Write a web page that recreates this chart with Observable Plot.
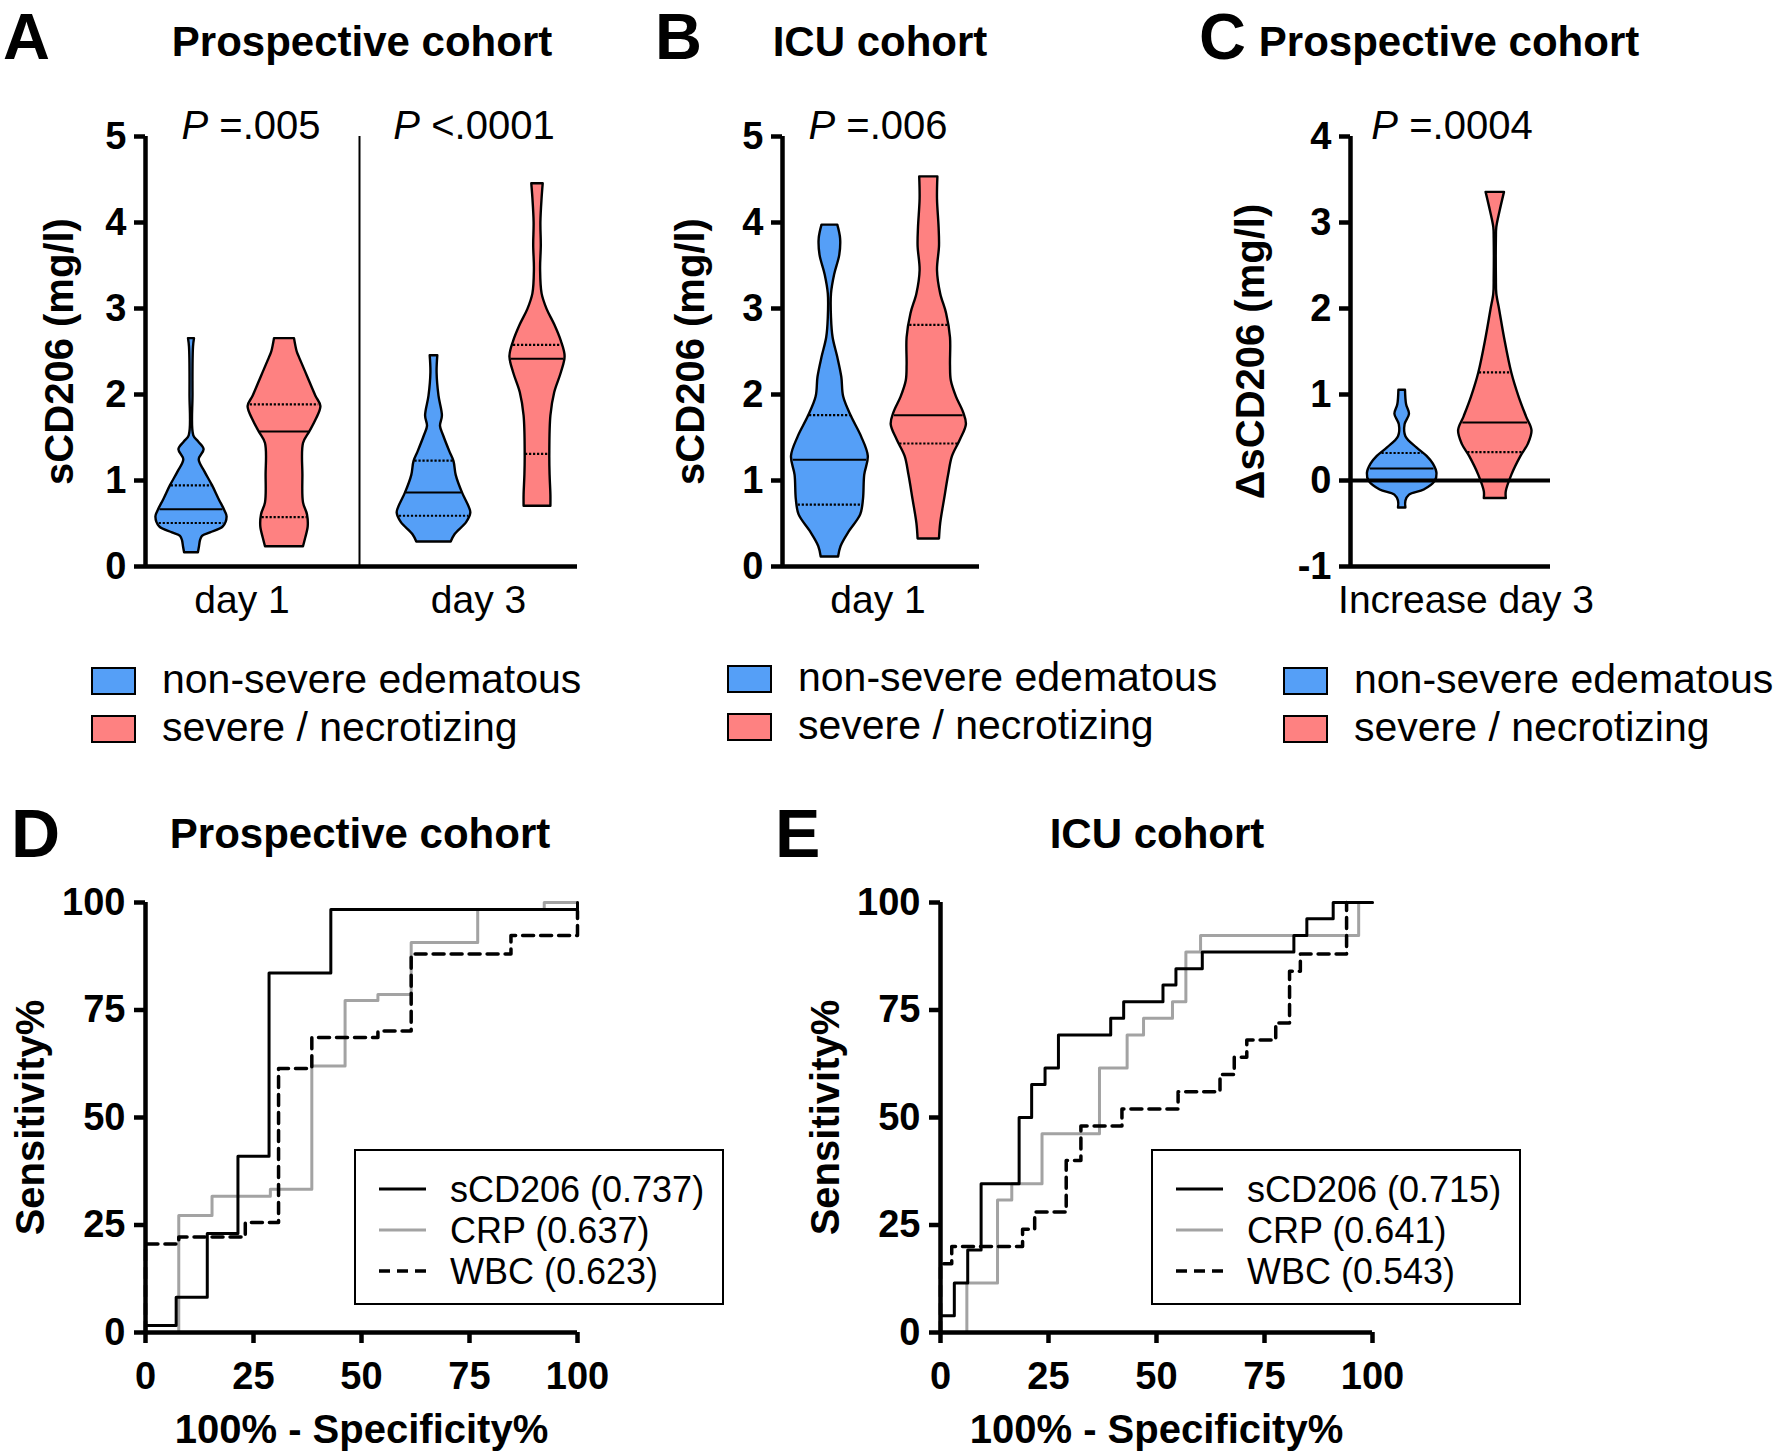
<!DOCTYPE html>
<html><head><meta charset="utf-8">
<script src="https://cdn.jsdelivr.net/npm/d3@7"></script>
<script src="https://cdn.jsdelivr.net/npm/@observablehq/plot@0.6"></script>
<style>
body{margin:0;background:#fff;}
#fig{position:relative;width:1775px;height:1452px;font-family:"Liberation Sans",Arial,Helvetica,sans-serif;color:#000;overflow:hidden;background:#fff}
.abs{position:absolute;white-space:nowrap}
.panel{position:absolute}
.panel svg{overflow:visible}
</style></head><body><div id="fig"></div>
<script>
// ---------------- DATA ----------------
const groups = ["non-severe edematous", "severe / necrotizing"];

// Violin outlines: [value, half-width of density]
// Panel A (prospective cohort, sCD206 mg/l)
const aDay1Blue = [[2.65,0.03],[2.55,0.02],[2.0,0.015],[1.52,0.023],[1.45,0.07],[1.36,0.126],[1.24,0.077],[1.1,0.134],[0.94,0.21],[0.78,0.276],[0.64,0.337],[0.575,0.356],[0.46,0.318],[0.39,0.19],[0.35,0.11],[0.3,0.09],[0.23,0.08],[0.16,0.069]];
const aDay1Red  = [[2.65,0.10],[2.5,0.126],[2.44,0.146],[2.21,0.23],[1.98,0.314],[1.86,0.364],[1.70,0.314],[1.56,0.25],[1.43,0.19],[1.06,0.184],[0.74,0.19],[0.60,0.23],[0.46,0.237],[0.32,0.21],[0.23,0.19]];
const aDay3Blue = [[2.45,0.038],[2.25,0.031],[1.98,0.05],[1.75,0.084],[1.63,0.065],[1.52,0.096],[1.33,0.16],[1.22,0.2],[1.06,0.222],[0.85,0.287],[0.69,0.352],[0.62,0.368],[0.51,0.326],[0.37,0.21],[0.285,0.172]];
const aDay3Red  = [[4.45,0.057],[4.28,0.046],[4.0,0.034],[3.73,0.038],[3.45,0.031],[3.17,0.046],[2.99,0.096],[2.81,0.172],[2.62,0.238],[2.44,0.276],[2.25,0.238],[2.02,0.172],[1.75,0.134],[1.29,0.123],[1.06,0.126],[0.83,0.134],[0.70,0.134]];
// quartiles [Q1, median, Q3]
const aDay1BlueQ = [0.506, 0.667, 0.943];
const aDay1RedQ  = [0.575, 1.57, 1.886];
const aDay3BlueQ = [0.59, 0.86, 1.23];
const aDay3RedQ  = [1.31, 2.415, 2.576];
const aCategories = ["day 1", "day 3"];
const aPvalues = ["=.005", "<.0001"];

// Panel B (ICU cohort, day 1)
const bBlue = [[3.97,0.079],[3.81,0.107],[3.62,0.099],[3.39,0.047],[3.17,0.016],[2.89,0.016],[2.66,0.032],[2.43,0.079],[2.20,0.119],[1.97,0.138],[1.74,0.217],[1.51,0.316],[1.28,0.384],[1.06,0.348],[0.78,0.336],[0.60,0.308],[0.41,0.198],[0.23,0.111],[0.11,0.087]];
const bRed  = [[4.53,0.091],[4.27,0.087],[3.94,0.103],[3.72,0.107],[3.44,0.087],[3.17,0.119],[2.94,0.178],[2.66,0.217],[2.34,0.217],[2.16,0.225],[1.97,0.277],[1.79,0.348],[1.65,0.376],[1.47,0.316],[1.28,0.237],[1.06,0.198],[0.78,0.158],[0.50,0.119],[0.32,0.107]];
const bBlueQ = [0.72, 1.24, 1.76];
const bRedQ  = [1.43, 1.76, 2.81];
const bCategories = ["day 1"];
const bPvalue = "=.006";

// Panel C (increase day 3, delta sCD206)
const cBlue = [[1.05,0.033],[0.88,0.044],[0.77,0.073],[0.65,0.029],[0.51,0.037],[0.38,0.147],[0.28,0.249],[0.19,0.312],[0.08,0.348],[-0.01,0.33],[-0.11,0.22],[-0.17,0.073],[-0.24,0.037],[-0.32,0.037]];
const cRed  = [[3.35,0.092],[3.13,0.048],[2.94,0.015],[2.81,0.011],[2.35,0.011],[2.17,0.015],[1.98,0.044],[1.66,0.092],[1.25,0.165],[0.97,0.238],[0.74,0.312],[0.58,0.367],[0.42,0.33],[0.28,0.257],[0.06,0.165],[-0.13,0.11],[-0.21,0.11]];
const cBlueQ = [0.0, 0.14, 0.32];
const cRedQ  = [0.33, 0.674, 1.257];
const cCategories = ["Increase day 3"];
const cPvalue = "=.0004";

// ROC curves: [100% - specificity%, sensitivity%]
const dSCD206 = [[0,0],[0,1.6],[7.1,8.2],[14.3,23],[21.4,41],[28.6,83.6],[42.9,98.4],[100,100]];
const dCRP    = [[0,0],[7.7,27.2],[15.4,31.7],[28.9,33.3],[38.5,62],[46.2,77.2],[53.8,78.6],[61.5,90.7],[76.9,98.4],[92.3,100],[100,100]];
const dWBC    = [[0,0],[0,20.6],[7.7,22.2],[23.1,25.6],[30.8,61.4],[38.5,68.6],[53.8,70.1],[61.5,88],[84.6,92.3],[100,98]];
const eSCD206 = [[0,0],[0,3.9],[3.2,11.5],[6.3,19.2],[9.4,34.6],[18.2,50],[21.1,57.7],[24.2,61.5],[27.3,69.2],[39.4,73.1],[42.4,76.9],[51.5,80.8],[54.5,84.6],[60.6,88.5],[81.8,92.3],[84.8,96.2],[90.9,100],[100,100]];
const eCRP    = [[0,0],[6.1,11.5],[13.2,30.8],[16.5,34.6],[23.5,46.2],[36.8,61.5],[43.2,69.2],[47,73.1],[53.7,76.9],[56.8,88.5],[60.2,92.3],[96.8,100],[100,100]];
const eWBC    = [[0,0],[0,16],[2.6,20],[19,24],[21.8,28],[29.1,40],[32.5,48],[42,52],[55,56],[64.7,60],[68,64],[70.9,68],[77.6,72],[80.8,84],[83.3,88],[94,100]];
const rocNames = ["sCD206", "CRP", "WBC"];
const dAUC = ["0.737", "0.637", "0.623"];
const eAUC = ["0.715", "0.641", "0.543"];
const rocTicks = [0, 25, 50, 75, 100];

// ---------------- LAYOUT / STYLE ----------------
const FONT = '"Liberation Sans", Arial, Helvetica, sans-serif';
const BLUE = "#559ff7", RED = "#fe8181", GRAY = "#a3a3a3";
const fig = document.getElementById("fig");
const base = {fontFamily: FONT, fontSize: "38px", fontWeight: "bold", background: "transparent", overflow: "visible", color: "#000"};
const AX = 4.5;
const yAxisOpts = {tickSize: 11, tickPadding: 8, strokeWidth: AX, fontSize: 38, fontWeight: "bold", tickFormat: d => String(d), label: null};

// text with its baseline at y; line box = lh * size
function txt(html, x, baseline, size, weight = "normal", anchor = "start", lh = 1) {
  const d = document.createElement("div");
  d.className = "abs";
  d.innerHTML = html;
  d.style.fontSize = size + "px";
  d.style.lineHeight = (lh * size) + "px";
  d.style.fontWeight = weight;
  d.style.top = (baseline - (lh / 2 + 0.3465) * size) + "px";
  d.style.left = x + "px";
  if (anchor === "middle") d.style.transform = "translateX(-50%)";
  fig.appendChild(d);
  return d;
}
function place(svg, left, top) {
  const w = document.createElement("div");
  w.className = "panel";
  w.style.left = left + "px"; w.style.top = top + "px";
  w.appendChild(svg);
  fig.appendChild(w);
}
function halfAt(outline, v) {
  for (let i = 0; i < outline.length - 1; i++) {
    const [v0, w0] = outline[i], [v1, w1] = outline[i + 1];
    if (v <= v0 && v >= v1) return w0 + (w1 - w0) * (v - v0) / (v1 - v0);
  }
  return outline[outline.length - 1][1];
}
function violin(outline, quart, center, fill) {
  const pts = outline.map(([v, w]) => ({v, w}));
  const q = quart.map((v, i) => ({v, w: halfAt(outline, v) * 0.97, med: i === 1}));
  return [
    Plot.areaX(pts, {y: "v", x1: d => center - d.w, x2: d => center + d.w, fill, stroke: "#000", strokeWidth: 2.4, curve: "catmull-rom"}),
    Plot.ruleY(q.filter(d => d.med), {y: "v", x1: d => center - d.w, x2: d => center + d.w, stroke: "#000", strokeWidth: 2}),
    Plot.ruleY(q.filter(d => !d.med), {y: "v", x1: d => center - d.w, x2: d => center + d.w, stroke: "#000", strokeWidth: 2.2, strokeDasharray: "2.2,1.8"})
  ];
}
function yLabel(t, dx) {
  return Plot.text([t], {text: d => d, frameAnchor: "left", textAnchor: "middle", lineAnchor: "middle", dx, rotate: -90, fontSize: 40, fontWeight: "bold"});
}
function catLabels(cats, xs, fs) {
  return Plot.text(cats, {x: (d, i) => xs[i], text: d => d, frameAnchor: "bottom", lineAnchor: "middle", dy: 34, fontSize: fs, fontWeight: "normal"});
}

// ---------------- PANEL A ----------------
const A_POS = [0.46, 1.39, 2.885, 3.92], A_DIV = 2.14, A_CAT = [0.965, 3.33];
place(Plot.plot({
  width: 592, height: 546, marginLeft: 145, marginRight: 15, marginTop: 56, marginBottom: 60,
  x: {domain: [0, 4.32], axis: null},
  y: {domain: [0, 5], label: null},
  style: base,
  marks: [
    ...violin(aDay1Blue, aDay1BlueQ, A_POS[0], BLUE),
    ...violin(aDay1Red, aDay1RedQ, A_POS[1], RED),
    ...violin(aDay3Blue, aDay3BlueQ, A_POS[2], BLUE),
    ...violin(aDay3Red, aDay3RedQ, A_POS[3], RED),
    Plot.ruleX([A_DIV], {stroke: "#000", strokeWidth: 2}),
    Plot.ruleX([0], {strokeWidth: AX}),
    Plot.ruleY([0], {strokeWidth: AX}),
    Plot.axisY([0, 1, 2, 3, 4, 5], yAxisOpts),
    catLabels(aCategories, A_CAT, 39),
    yLabel("sCD206 (mg/l)", -85)
  ]
}), 0, 80);

// ---------------- PANEL B ----------------
const B_POS = [0.474, 1.463], B_CAT = [0.955];
place(Plot.plot({
  width: 354, height: 546, marginLeft: 142, marginRight: 15, marginTop: 56, marginBottom: 60,
  x: {domain: [0, 1.97], axis: null},
  y: {domain: [0, 5], label: null},
  style: base,
  marks: [
    ...violin(bBlue, bBlueQ, B_POS[0], BLUE),
    ...violin(bRed, bRedQ, B_POS[1], RED),
    Plot.ruleX([0], {strokeWidth: AX}),
    Plot.ruleY([0], {strokeWidth: AX}),
    Plot.axisY([0, 1, 2, 3, 4, 5], yAxisOpts),
    catLabels(bCategories, B_CAT, 39),
    yLabel("sCD206 (mg/l)", -91)
  ]
}), 640, 80);

// ---------------- PANEL C ----------------
const C_POS = [0.517, 1.448], C_CAT = [1.155];
place(Plot.plot({
  width: 365, height: 546, marginLeft: 150, marginRight: 15, marginTop: 56, marginBottom: 60,
  x: {domain: [0, 2.0], axis: null},
  y: {domain: [-1, 4], label: null},
  style: base,
  marks: [
    ...violin(cBlue, cBlueQ, C_POS[0], BLUE),
    ...violin(cRed, cRedQ, C_POS[1], RED),
    Plot.ruleY([0], {strokeWidth: 4}),
    Plot.ruleX([0], {strokeWidth: AX}),
    Plot.ruleY([-1], {strokeWidth: AX}),
    Plot.axisY([-1, 0, 1, 2, 3, 4], yAxisOpts),
    catLabels(cCategories, C_CAT, 39),
    yLabel("\u0394sCD206 (mg/l)", -99)
  ]
}), 1200, 80);

// ---------------- ROC PANELS ----------------
function roc(s, c, w, dxLabel) {
  return Plot.plot({
    width: 145 + 432 + 40, height: 602, marginLeft: 145, marginRight: 40, marginTop: 52, marginBottom: 120,
    x: {domain: [0, 100], label: null},
    y: {domain: [0, 100], label: null},
    style: base,
    marks: [
      Plot.line(c, {x: d => d[0], y: d => d[1], curve: "step-after", stroke: GRAY, strokeWidth: 3}),
      Plot.line(w, {x: d => d[0], y: d => d[1], curve: "step-after", stroke: "#000", strokeWidth: 3.5, strokeDasharray: "11,7"}),
      Plot.line(s, {x: d => d[0], y: d => d[1], curve: "step-after", stroke: "#000", strokeWidth: 3}),
      Plot.ruleX([0], {strokeWidth: AX}),
      Plot.ruleY([0], {strokeWidth: AX}),
      Plot.axisY(rocTicks, {...yAxisOpts, tickPadding: 9}),
      Plot.axisX(rocTicks, {tickSize: 11, tickPadding: 19, strokeWidth: AX, fontSize: 38, fontWeight: "bold", tickFormat: d => String(d), label: null}),
      Plot.text(["100% - Specificity%"], {text: d => d, frameAnchor: "bottom", lineAnchor: "middle", dy: 98, fontSize: 40, fontWeight: "bold"}),
      yLabel("Sensitivity%", dxLabel)
    ]
  });
}
place(roc(dSCD206, dCRP, dWBC, -114), 0, 850);
place(roc(eSCD206, eCRP, eWBC, -114), 940 - 145, 850);

// ---------------- TEXT: letters, titles, P values ----------------
txt("A", 3, 60, 65, "bold", "start", 0.8);
txt("Prospective cohort", 362, 57, 42, "bold", "middle");
txt("B", 655, 60, 65, "bold", "start", 0.8);
txt("ICU cohort", 880, 57, 42, "bold", "middle");
txt("C", 1199, 60, 65, "bold", "start", 0.8);
txt("Prospective cohort", 1449, 57, 42, "bold", "middle");
txt("D", 11, 857, 68, "bold", "start", 0.8);
txt("Prospective cohort", 360, 849, 42, "bold", "middle");
txt("E", 775, 857, 68, "bold", "start", 0.8);
txt("ICU cohort", 1157, 849, 42, "bold", "middle");

txt("<i>P</i> " + aPvalues[0], 251, 139, 40, "normal", "middle");
txt("<i>P</i> " + aPvalues[1], 474, 139, 40, "normal", "middle");
txt("<i>P</i> " + bPvalue, 878, 139, 40, "normal", "middle");
txt("<i>P</i> " + cPvalue, 1452, 139, 40, "normal", "middle");

// ---------------- LEGENDS (violins) ----------------
function swatchLegend(boxX, textX, base1) {
  const colors = [BLUE, RED];
  groups.forEach((g, i) => {
    const b = document.createElement("div");
    b.style.cssText = `position:absolute;left:${boxX}px;top:${base1 - 27 + i * 48}px;width:45px;height:28px;box-sizing:border-box;border:2px solid #000;background:${colors[i]}`;
    fig.appendChild(b);
    txt(g, textX, base1 + i * 48, 41);
  });
}
swatchLegend(91, 162, 694);
swatchLegend(727, 798, 692);
swatchLegend(1283, 1354, 694);

// ---------------- LEGENDS (ROC) ----------------
function rocLegend(left, top, auc) {
  const box = document.createElement("div");
  box.style.cssText = `position:absolute;left:${left}px;top:${top}px;width:370px;height:156px;box-sizing:border-box;border:2px solid #000;background:#fff`;
  fig.appendChild(box);
  const styles = [["#000", 3, ""], [GRAY, 3, ""], ["#000", 3.5, "11,7"]];
  rocNames.forEach((n, i) => {
    const cy = top + 40 + i * 41;
    const s = document.createElementNS("http://www.w3.org/2000/svg", "svg");
    s.setAttribute("width", 48); s.setAttribute("height", 10);
    s.style.cssText = `position:absolute;left:${left + 25}px;top:${cy - 5}px`;
    const l = document.createElementNS("http://www.w3.org/2000/svg", "line");
    l.setAttribute("x1", 0); l.setAttribute("x2", 47); l.setAttribute("y1", 5); l.setAttribute("y2", 5);
    l.setAttribute("stroke", styles[i][0]); l.setAttribute("stroke-width", styles[i][1]);
    if (styles[i][2]) l.setAttribute("stroke-dasharray", styles[i][2]);
    s.appendChild(l); fig.appendChild(s);
    txt(`${n} (${auc[i]})`, left + 96, cy + 13, 36);
  });
}
rocLegend(354, 1149, dAUC);
rocLegend(1151, 1149, eAUC);
</script></body></html>
